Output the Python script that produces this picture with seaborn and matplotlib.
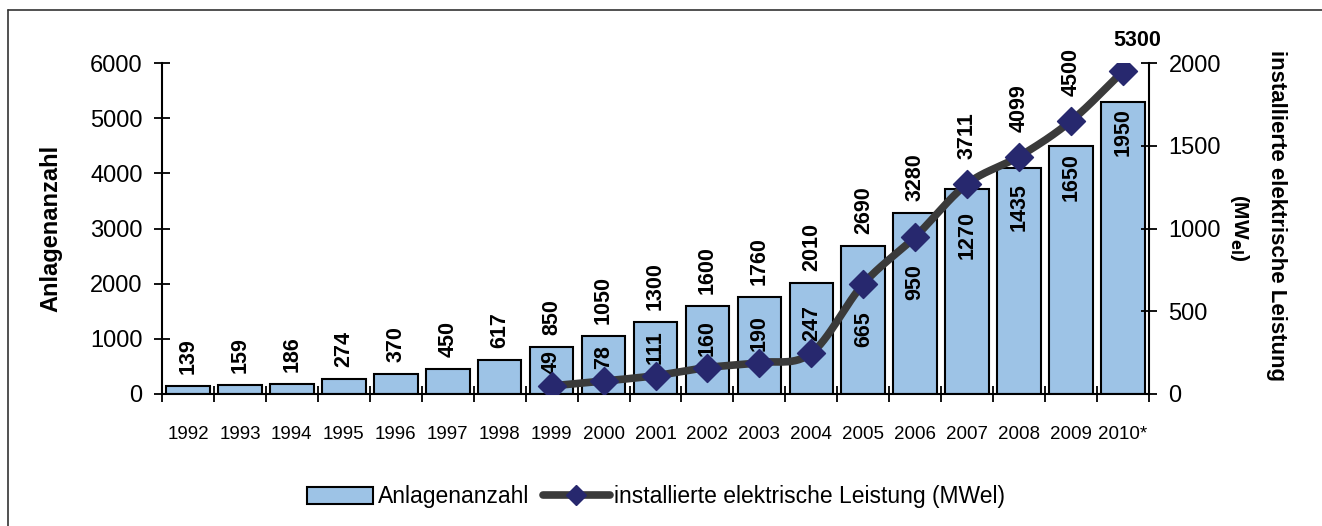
import numpy as np
import pandas as pd
import matplotlib
matplotlib.use("Agg")
import matplotlib.pyplot as plt
from matplotlib.patches import Patch
from matplotlib.lines import Line2D
import seaborn as sns

years = ["1992", "1993", "1994", "1995", "1996", "1997", "1998", "1999", "2000",
         "2001", "2002", "2003", "2004", "2005", "2006", "2007", "2008", "2009", "2010*"]
anlagen = [139, 159, 186, 274, 370, 450, 617, 850, 1050, 1300, 1600, 1760, 2010,
           2690, 3280, 3711, 4099, 4500, 5300]
leistung_years = ["1999", "2000", "2001", "2002", "2003", "2004", "2005", "2006",
                  "2007", "2008", "2009", "2010*"]
leistung = [49, 78, 111, 160, 190, 247, 665, 950, 1270, 1435, 1650, 1950]

sns.set_theme(style="white")
plt.rcParams["font.family"] = ["Liberation Sans", "DejaVu Sans"]
plt.rcParams["text.color"] = "black"
plt.rcParams["axes.labelcolor"] = "black"

W, H = 1322, 526
fig = plt.figure(figsize=(W / 100, H / 100), dpi=100)
L, R, B, T = 162 / W, 1149 / W, 1 - 394 / H, 1 - 63 / H
ax = fig.add_axes([L, B, R - L, T - B])

bar_color = "#9DC3E6"
df = pd.DataFrame({"Jahr": years, "Anlagen": anlagen})
sns.barplot(data=df, x="Jahr", y="Anlagen", ax=ax, color=bar_color,
            edgecolor="black", linewidth=1.5, width=0.84, saturation=1)

ax.set_xlim(-0.5, len(years) - 0.5)
ax.set_ylim(0, 6000)
ax.set_yticks([0, 1000, 2000, 3000, 4000, 5000, 6000])
ax.set_xlabel("")
ax.set_ylabel("Anlagenanzahl", fontsize=17, fontweight="bold", color="black")
ax.yaxis.set_label_coords((62 - 162) / (1149 - 162), 0.5)
for s in ["top", "right"]:
    ax.spines[s].set_visible(False)
for s in ["left", "bottom"]:
    ax.spines[s].set_color("black")
    ax.spines[s].set_linewidth(1.5)
ax.tick_params(axis="y", which="major", direction="inout", length=12, width=1.3,
               labelsize=17, pad=8, left=True, colors="black")
ax.set_xticks(np.arange(len(years)))
ax.set_xticklabels(years, fontsize=13.5)
ax.tick_params(axis="x", which="major", length=0, pad=23, colors="black")
ax.set_xticks(np.arange(-0.5, len(years)), minor=True)
ax.tick_params(axis="x", which="minor", direction="inout", length=12, width=1.3,
               bottom=True, colors="black")

px_per_count = 331 / 6000
px_per_mw = 331 / 2000
mw_to_count = 6000 / 2000
lab_fs = 15.5

# count labels above bars (kept clear of the line markers)
for i, v in enumerate(anlagen):
    if i == len(anlagen) - 1:
        continue
    base = v + 12 / px_per_count
    if years[i] in leistung_years:
        mw = leistung[leistung_years.index(years[i])]
        base = max(base, mw * mw_to_count + 25 / px_per_count)
    ax.text(i, base, str(v), rotation=90, ha="center", va="bottom", fontsize=lab_fs,
            fontweight="bold", color="black")

ax2 = ax.twinx()
ax2.set_ylim(0, 2000)
ax2.set_yticks([0, 500, 1000, 1500, 2000])
ax2.tick_params(axis="y", direction="inout", length=12, width=1.3, labelsize=17,
                pad=8, right=True, colors="black")
for s in ["top", "left", "bottom"]:
    ax2.spines[s].set_visible(False)
ax2.spines["right"].set_color("black")
ax2.spines["right"].set_linewidth(1.5)

# smooth line (Catmull-Rom through the data points, in screen-proportional space)
xi = np.array([years.index(y) for y in leistung_years], dtype=float)
yv = np.array(leistung, dtype=float)
sy = (331 / 2000) / (987 / 19)
P = np.column_stack([xi, yv * sy])
P_ext = np.vstack([2 * P[0] - P[1], P, 2 * P[-1] - P[-2]])
curve = []
for k in range(1, len(P_ext) - 2):
    p0, p1, p2, p3 = P_ext[k - 1], P_ext[k], P_ext[k + 1], P_ext[k + 2]
    t = np.linspace(0, 1, 30)[:, None]
    seg = 0.5 * ((2 * p1) + (-p0 + p2) * t + (2 * p0 - 5 * p1 + 4 * p2 - p3) * t ** 2
                 + (-p0 + 3 * p1 - 3 * p2 + p3) * t ** 3)
    curve.append(seg)
curve = np.vstack(curve)
ax2.plot(curve[:, 0], curve[:, 1] / sy, color="#3a3a3a", lw=5.5, solid_capstyle="round",
         zorder=3)
ldf = pd.DataFrame({"x": xi, "y": yv})
sns.scatterplot(data=ldf, x="x", y="y", ax=ax2, marker="D", s=200, color="#27286E",
                edgecolor="#27286E", zorder=4, legend=False)
ax2.set_xlim(-0.5, len(years) - 0.5)
ax2.set_xlabel("")
ax2.set_ylabel("")

for x, v in zip(xi, leistung):
    if x <= years.index("2004"):
        ax2.annotate(str(v), (x, v), xytext=(0, 12), textcoords="offset pixels",
                     rotation=90, ha="center", va="bottom", fontsize=lab_fs,
                     fontweight="bold", color="black")
    else:
        cnt = anlagen[int(x)]
        top = min(v - 27 / px_per_mw, cnt / mw_to_count - 7 / px_per_mw)
        ax2.text(x, top, str(v), rotation=90, ha="center", va="top", fontsize=lab_fs,
                 fontweight="bold", color="black")

# last count label horizontal above marker
ax2.annotate(str(anlagen[-1]), (len(years) - 1, leistung[-1]), xytext=(14, 31),
             textcoords="offset pixels", ha="center", va="center", fontsize=lab_fs,
             fontweight="bold", color="black")

fig.text(1276 / W, 1 - 215 / H, "installierte elektrische Leistung", rotation=270,
         ha="center", va="center", fontsize=16, fontweight="bold")
fig.text(1240 / W, 1 - 228 / H, "(MW$_{\\mathbf{el}}$)", rotation=270,
         ha="center", va="center", fontsize=15, fontweight="bold")

handles = [Patch(facecolor=bar_color, edgecolor="black", linewidth=1.5),
           Line2D([0], [0], color="#3a3a3a", lw=5.5, marker="D", markersize=10,
                  markerfacecolor="#27286E", markeredgecolor="#27286E")]
fig.legend(handles, ["Anlagenanzahl", "installierte elektrische Leistung (MWel)"],
           loc="center", bbox_to_anchor=(656 / W, 1 - 497 / H), ncol=2, frameon=False,
           fontsize=16.5, handlelength=2.9, handleheight=0.8, handletextpad=0.2,
           columnspacing=0.6)

# outer frame
fig.add_artist(Line2D([8 / W, 1.0], [1 - 10 / H, 1 - 10 / H], color="#333333", lw=1.2))
fig.add_artist(Line2D([8 / W, 8 / W], [0.0, 1 - 10 / H], color="#333333", lw=1.2))

fig.savefig("out.png", dpi=100)
